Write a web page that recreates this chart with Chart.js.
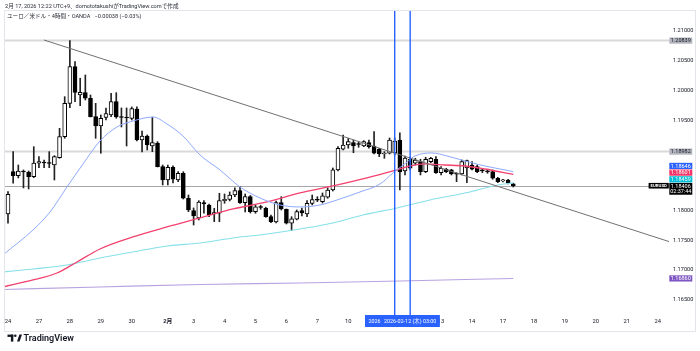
<!DOCTYPE html>
<html><head><meta charset="utf-8">
<script src="https://cdn.jsdelivr.net/npm/chart.js@4/dist/chart.umd.min.js"></script>
<style>html,body{margin:0;padding:0;background:#fff;overflow:hidden}#wrap{width:700px;height:351px;position:relative}</style>
</head><body><div id="wrap"><canvas id="c" width="700" height="351"></canvas></div>
<script>
// ---- data (EUR/USD 4h, OANDA) ----
const opens = [1.17336,1.17938,1.18646,1.18579,1.18658,1.18636,1.18562,1.18787,1.18808,1.18787,
 1.18758,1.18880,1.19232,1.19790,1.20403,1.19929,1.19968,1.19874,1.19566,1.19411,
 1.19553,1.19595,1.19817,1.19561,1.19553,1.19539,1.19695,1.19176,1.19243,1.19076,
 1.19126,1.18730,1.18507,1.18720,1.18507,1.18619,1.18201,1.17994,1.17872,1.18127,
 1.18089,1.17938,1.17950,1.18161,1.18184,1.18256,1.18328,1.18127,1.18228,1.17977,
 1.18056,1.18034,1.17893,1.17805,1.18127,1.18017,1.17783,1.17850,1.17994,1.17938,
 1.18117,1.18173,1.18144,1.18218,1.18340,1.18675,1.19021,1.19093,1.19131,1.19109,
 1.19076,1.19131,1.19076,1.19021,1.18942,1.18954,1.18959,1.19176,1.18658,1.18854,
 1.18787,1.18813,1.18646,1.18813,1.18854,1.18629,1.18686,1.18675,1.18613,1.18608,
 1.18708,1.18758,1.18730,1.18663,1.18649,1.18646,1.18536,1.18491,1.18507,1.18444];
const highs = [1.18290,1.18312,1.18981,1.18758,1.18675,1.18658,1.19064,1.18897,1.18842,1.18981,
 1.18914,1.19372,1.19901,1.20839,1.20486,1.20209,1.20264,1.19929,1.19790,1.19595,
 1.19712,1.19958,1.19968,1.19712,1.19712,1.19729,1.19729,1.19327,1.19260,1.19556,
 1.19148,1.18758,1.18758,1.18742,1.18646,1.18646,1.18256,1.18039,1.18161,1.18161,
 1.18106,1.18034,1.18285,1.18273,1.18307,1.18374,1.18395,1.18273,1.18248,1.18089,
 1.18084,1.18051,1.17922,1.18156,1.18228,1.18022,1.17893,1.18005,1.18039,1.18161,
 1.18256,1.18228,1.18290,1.18374,1.18708,1.19064,1.19260,1.19205,1.19176,1.19148,
 1.19165,1.19176,1.19315,1.19038,1.18981,1.19210,1.19210,1.19294,1.18909,1.18892,
 1.18870,1.18854,1.18887,1.18887,1.18897,1.18730,1.18703,1.18686,1.18629,1.18842,
 1.18842,1.18813,1.18758,1.18686,1.18675,1.18675,1.18552,1.18519,1.18519,1.18452];
const lows = [1.17303,1.17783,1.18452,1.18541,1.18374,1.18357,1.18545,1.18713,1.18713,1.18713,
 1.18507,1.18870,1.19205,1.19717,1.19817,1.19750,1.19846,1.19561,1.19205,1.18954,
 1.19511,1.19566,1.19539,1.19394,1.19076,1.19511,1.19160,1.18976,1.19009,1.18981,
 1.18725,1.18424,1.18424,1.18457,1.18479,1.18189,1.17977,1.17754,1.17839,1.17950,
 1.17893,1.17810,1.17810,1.18117,1.18156,1.18228,1.18117,1.17972,1.17955,1.17950,
 1.18017,1.17883,1.17793,1.17788,1.18005,1.17771,1.17659,1.17839,1.17905,1.17893,
 1.18089,1.18144,1.18122,1.18201,1.18323,1.18658,1.19009,1.19038,1.18964,1.19054,
 1.19064,1.19038,1.18942,1.18897,1.18870,1.18942,1.18925,1.18340,1.18591,1.18675,
 1.18758,1.18591,1.18629,1.18797,1.18619,1.18591,1.18629,1.18591,1.18479,1.18591,
 1.18462,1.18675,1.18629,1.18629,1.18619,1.18519,1.18462,1.18474,1.18440,1.18390];
const closes = [1.18256,1.18268,1.18579,1.18658,1.18641,1.18562,1.18792,1.18813,1.18792,1.18783,
 1.18897,1.19232,1.19790,1.20403,1.19974,1.19974,1.19874,1.19566,1.19411,1.19539,
 1.19620,1.19817,1.19561,1.19553,1.19544,1.19700,1.19176,1.19243,1.19093,1.19131,
 1.18730,1.18507,1.18720,1.18519,1.18619,1.18201,1.18005,1.17905,1.18139,1.18106,
 1.17922,1.17960,1.18161,1.18184,1.18256,1.18328,1.18127,1.18228,1.17977,1.18056,
 1.18047,1.17893,1.17810,1.18127,1.18022,1.17783,1.17858,1.17977,1.17955,1.18117,
 1.18181,1.18168,1.18240,1.18340,1.18675,1.19038,1.19093,1.19148,1.19076,1.19101,
 1.19148,1.19064,1.18954,1.18942,1.18954,1.19176,1.19160,1.18641,1.18875,1.18703,
 1.18842,1.18646,1.18854,1.18870,1.18629,1.18703,1.18646,1.18608,1.18603,1.18813,
 1.18830,1.18686,1.18646,1.18659,1.18644,1.18536,1.18479,1.18499,1.18452,1.18406];

// moving averages: [candle index, price]
const maBlue = [[0,1.17253],[5.85,1.17671],[9.15,1.17972],[12.44,1.18390],[15.55,1.18775],[18.84,1.19160],
 [22.14,1.19394],[25.25,1.19494],[29.12,1.19561],[31.84,1.19444],[34.94,1.19243],[38.24,1.18925],
 [42.12,1.18675],[46.0,1.18390],[49.88,1.18206],[53.75,1.18089],[57.63,1.18056],[61.51,1.18089],
 [65.39,1.18189],[69.27,1.18307],[73.15,1.18440],[75.67,1.18624],[78.39,1.18808],[79.94,1.18909],
 [83.24,1.18959],[86.14,1.18909],[89.64,1.18825],[93.51,1.18741],[97.39,1.18675],[99,1.18646]];
const maRed = [[0,1.16717],[5.85,1.16834],[10.5,1.16951],[14.38,1.17135],[18.84,1.17353],[25.25,1.17554],
 [31.84,1.17721],[38.24,1.17872],[44.64,1.18022],[51.23,1.18139],[57.63,1.18290],[64.03,1.18407],
 [70.63,1.18541],[75.67,1.18658],[78.97,1.18741],[81.88,1.18775],[85.76,1.18758],[89.64,1.18741],
 [93.51,1.18691],[99,1.18601]];
const maCyan = [[0,1.16968],[5.85,1.17018],[12.44,1.17085],[18.84,1.17202],[25.25,1.17303],[31.84,1.17403],
 [38.24,1.17453],[44.64,1.17537],[51.23,1.17604],[57.63,1.17688],[64.03,1.17788],[69.85,1.17922],
 [76.45,1.18039],[82.85,1.18173],[90.6,1.18307],[96.03,1.18424],[99,1.18459]];
const maPurple = [[0,1.16675],[18.84,1.16717],[38.24,1.16759],[57.63,1.16784],[77.03,1.16817],[99,1.16860]];

// drawings
const trendLine = [[7.98,1.20849],[129.2,1.17477]];
const hLinePrices = [1.20839,1.18982];
const vLineIdx = [76,79];
const vLineLabels = ['2026-02-11 (水) 19:00','2026-02-12 (木) 03:00'];

// axis labels
const dayTickIdx = [1,7,13,19,25,32,37,43,49,55,61,67,73,79,85,91,97,103,109,115,121,127];
const dayTickLabels = ['24','27','28','29','30','2月','3','4','5','6','7','10','11','12','13','14','17','18','19','20','21','24'];
const priceTicks = [1.165,1.170,1.175,1.180,1.195,1.200,1.205,1.210];
const countdown = '02:37:44';
const symbolName = 'EURUSD';
const headerLine1 = '2月 17, 2026 12:22 UTC+9、domototakushiがTradingView.comで作成';
const headerLine2 = 'ユーロ／米ドル・4時間・OANDA   −0.00038 (−0.03%)';

// ---- chart ----
const FONT = 'Roboto, "Noto Sans CJK JP", "Noto Sans", sans-serif';
const xMin = 0.225, xMax = 129.2, yMin = 1.16265, yMax = 1.21351;

const bodies = opens.map((o,i)=>({x:i, y:[o, closes[i]]}));
const wicks = highs.map((h,i)=>({x:i, y:[lows[i], h]}));
const pts = arr => arr.map(([x,y])=>({x,y}));
const last = arr => arr[arr.length-1][1];

function line(ctx,x1,y1,x2,y2){ctx.beginPath();ctx.moveTo(x1,y1);ctx.lineTo(x2,y2);ctx.stroke();}

const overlay = {
  id:'overlay',
  beforeDatasetsDraw(chart){
    const {ctx, chartArea:a, scales:{y}} = chart;
    ctx.save();
    ctx.beginPath(); ctx.rect(a.left,a.top,a.right-a.left,a.bottom-a.top); ctx.clip();
    ctx.strokeStyle='#d9d9d9'; ctx.lineWidth=2;
    hLinePrices.forEach(p=>{const py=y.getPixelForValue(p); line(ctx,a.left,py,a.right,py);});
    const cp = Math.round(y.getPixelForValue(closes[closes.length-1]))+0.5;
    ctx.strokeStyle='rgba(60,60,60,0.45)'; ctx.lineWidth=1;
    line(ctx,a.left,cp,a.right,cp);
    ctx.restore();
  },
  afterDatasetsDraw(chart){
    const {ctx, chartArea:a, scales:{x}} = chart;
    ctx.save();
    ctx.strokeStyle='#2962ff'; ctx.lineWidth=1.4;
    vLineIdx.forEach(i=>{const px=x.getPixelForValue(i); line(ctx,px,a.top,px,a.bottom+2);});
    ctx.restore();
  },
  afterDraw(chart){
    const {ctx, chartArea:a, scales:{x,y}} = chart;
    ctx.save();
    // frame
    ctx.strokeStyle='#e3e5ea'; ctx.lineWidth=1;
    ctx.strokeRect(4.5,10.5,691,321);
    // header
    ctx.fillStyle='#2a2e39'; ctx.textBaseline='middle'; ctx.textAlign='left';
    ctx.font='5.6px '+FONT;
    ctx.fillText(headerLine1,5,6.5);
    ctx.fillText(headerLine2,7,17);
    // time boxes for vertical lines
    ctx.font='5.4px '+FONT; ctx.textAlign='center';
    vLineIdx.forEach((i,k)=>{
      const px=x.getPixelForValue(i); const tw=ctx.measureText(vLineLabels[k]).width; const w=tw+7;
      ctx.fillStyle='#2962ff'; ctx.fillRect(px-w/2,a.bottom+1,w,12);
      ctx.fillStyle='#ffffff'; ctx.fillText(vLineLabels[k],px,a.bottom+7.2);
    });
    // price labels
    const bx=669.3, bw=23, h=6.2, gap=0.5;
    const cur = {v:closes[closes.length-1]};
    const cy = y.getPixelForValue(cur.v);
    const curTop = cy-3.1, curH = 11.8;
    const labs = [
      {v:hLinePrices[0], bg:'#b2b5be', fg:'#131722'},
      {v:hLinePrices[1], bg:'#b2b5be', fg:'#131722'},
      {v:last(maBlue), bg:'#2962ff', fg:'#ffffff'},
      {v:last(maRed), bg:'#f23566', fg:'#ffffff'},
      {v:last(maCyan), bg:'#00bcd4', fg:'#ffffff'},
      {v:last(maPurple), bg:'#7e57c2', fg:'#ffffff'}
    ].map(l=>({...l, py:y.getPixelForValue(l.v)}));
    const above = labs.filter(l=>l.py<=cy).sort((p,q)=>q.py-p.py);
    const below = labs.filter(l=>l.py>cy).sort((p,q)=>p.py-q.py);
    let lim = curTop;
    above.forEach(l=>{let t=l.py-h/2; if(t+h>lim-gap) t=lim-gap-h; l.top=t; lim=t;});
    lim = curTop+curH;
    below.forEach(l=>{let t=l.py-h/2; if(t<lim+gap) t=lim+gap; l.top=t; lim=t+h;});
    ctx.font='5.5px '+FONT; ctx.textAlign='center';
    labs.forEach(l=>{
      ctx.fillStyle=l.bg; ctx.fillRect(bx,l.top,bw,h);
      ctx.fillStyle=l.fg; ctx.fillText(l.v.toFixed(5),bx+bw/2,l.top+h/2+0.2);
    });
    ctx.fillStyle='#000'; ctx.fillRect(bx,curTop,bw,curH);
    ctx.fillStyle='#fff';
    ctx.fillText(cur.v.toFixed(5),bx+bw/2,curTop+3.2);
    ctx.fillText(countdown,bx+bw/2,curTop+8.8);
    // symbol tag
    ctx.fillStyle='#000'; ctx.fillRect(648.6,curTop,20.2,5.6);
    ctx.fillStyle='#fff'; ctx.font='bold 4.3px '+FONT;
    ctx.fillText(symbolName,658.7,curTop+2.9);
    // footer logo
    ctx.fillStyle='#131722';
    ctx.fillRect(7.5,334.6,5.8,2.3);
    ctx.fillRect(10.9,334.6,2.4,7);
    ctx.beginPath(); ctx.arc(15.3,335.8,1.25,0,Math.PI*2); ctx.fill();
    ctx.beginPath(); ctx.moveTo(17,341.6); ctx.lineTo(19.4,334.6); ctx.lineTo(22,334.6); ctx.lineTo(19.6,341.6); ctx.closePath(); ctx.fill();
    ctx.textAlign='left'; ctx.font='600 9px '+FONT;
    ctx.fillText('TradingView',23.5,338.4);
    ctx.restore();
  }
};

new Chart(document.getElementById('c'),{
  data:{datasets:[
    {type:'line', label:'trend', data:pts(trendLine), borderColor:'#707070', borderWidth:1, pointRadius:0, tension:0, order:1, clip:0},
    {type:'line', label:'ma1', data:pts(maBlue), borderColor:'#8eaaff', borderWidth:1, pointRadius:0, cubicInterpolationMode:'monotone', order:2, clip:0},
    {type:'line', label:'ma2', data:pts(maRed), borderColor:'#f2426f', borderWidth:1.3, pointRadius:0, cubicInterpolationMode:'monotone', order:2, clip:0},
    {type:'line', label:'ma3', data:pts(maCyan), borderColor:'#86e0ea', borderWidth:1.1, pointRadius:0, cubicInterpolationMode:'monotone', order:3, clip:0},
    {type:'line', label:'ma4', data:pts(maPurple), borderColor:'#b9a2e0', borderWidth:1.1, pointRadius:0, cubicInterpolationMode:'monotone', order:3, clip:0},
    {type:'bar', label:'body', data:bodies, grouped:false, barThickness:4, minBarLength:1,
      backgroundColor:c=>closes[c.dataIndex]>=opens[c.dataIndex]?'#ffffff':'#000000',
      borderColor:'#000000', borderWidth:1, borderSkipped:false, order:5, clip:0},
    {type:'bar', label:'wick', data:wicks, grouped:false, barThickness:1, minBarLength:1,
      backgroundColor:'#222222', borderWidth:0, order:6, clip:0}
  ]},
  options:{
    responsive:false, animation:false, devicePixelRatio:1, events:[],
    layout:{padding:{left:4,top:10,right:0,bottom:0}},
    plugins:{legend:{display:false}, tooltip:{enabled:false}},
    scales:{
      x:{type:'linear', min:xMin, max:xMax, offset:false,
        afterBuildTicks:s=>{s.ticks=dayTickIdx.map(v=>({value:v}));},
        afterFit:s=>{s.height=37;},
        grid:{display:false, drawTicks:false}, border:{display:false},
        ticks:{autoSkip:false, maxRotation:0, minRotation:0, padding:4, color:'#131722',
          font:c=>({size:5.8, family:FONT, weight:(c.tick && dayTickLabels[dayTickIdx.indexOf(c.tick.value)]==='2月')?'bold':'normal'}),
          callback:v=>{const k=dayTickIdx.indexOf(v); return k>=0?dayTickLabels[k]:'';}}
      },
      y:{type:'linear', position:'right', min:yMin, max:yMax,
        afterBuildTicks:s=>{s.ticks=priceTicks.map(v=>({value:v}));},
        afterFit:s=>{s.width=31;},
        grid:{display:false, drawTicks:false}, border:{display:false},
        ticks:{padding:4, color:'#131722', font:{size:5.6, family:FONT}, callback:v=>v.toFixed(5)}
      }
    }
  },
  plugins:[overlay]
});
</script>
</body></html>
